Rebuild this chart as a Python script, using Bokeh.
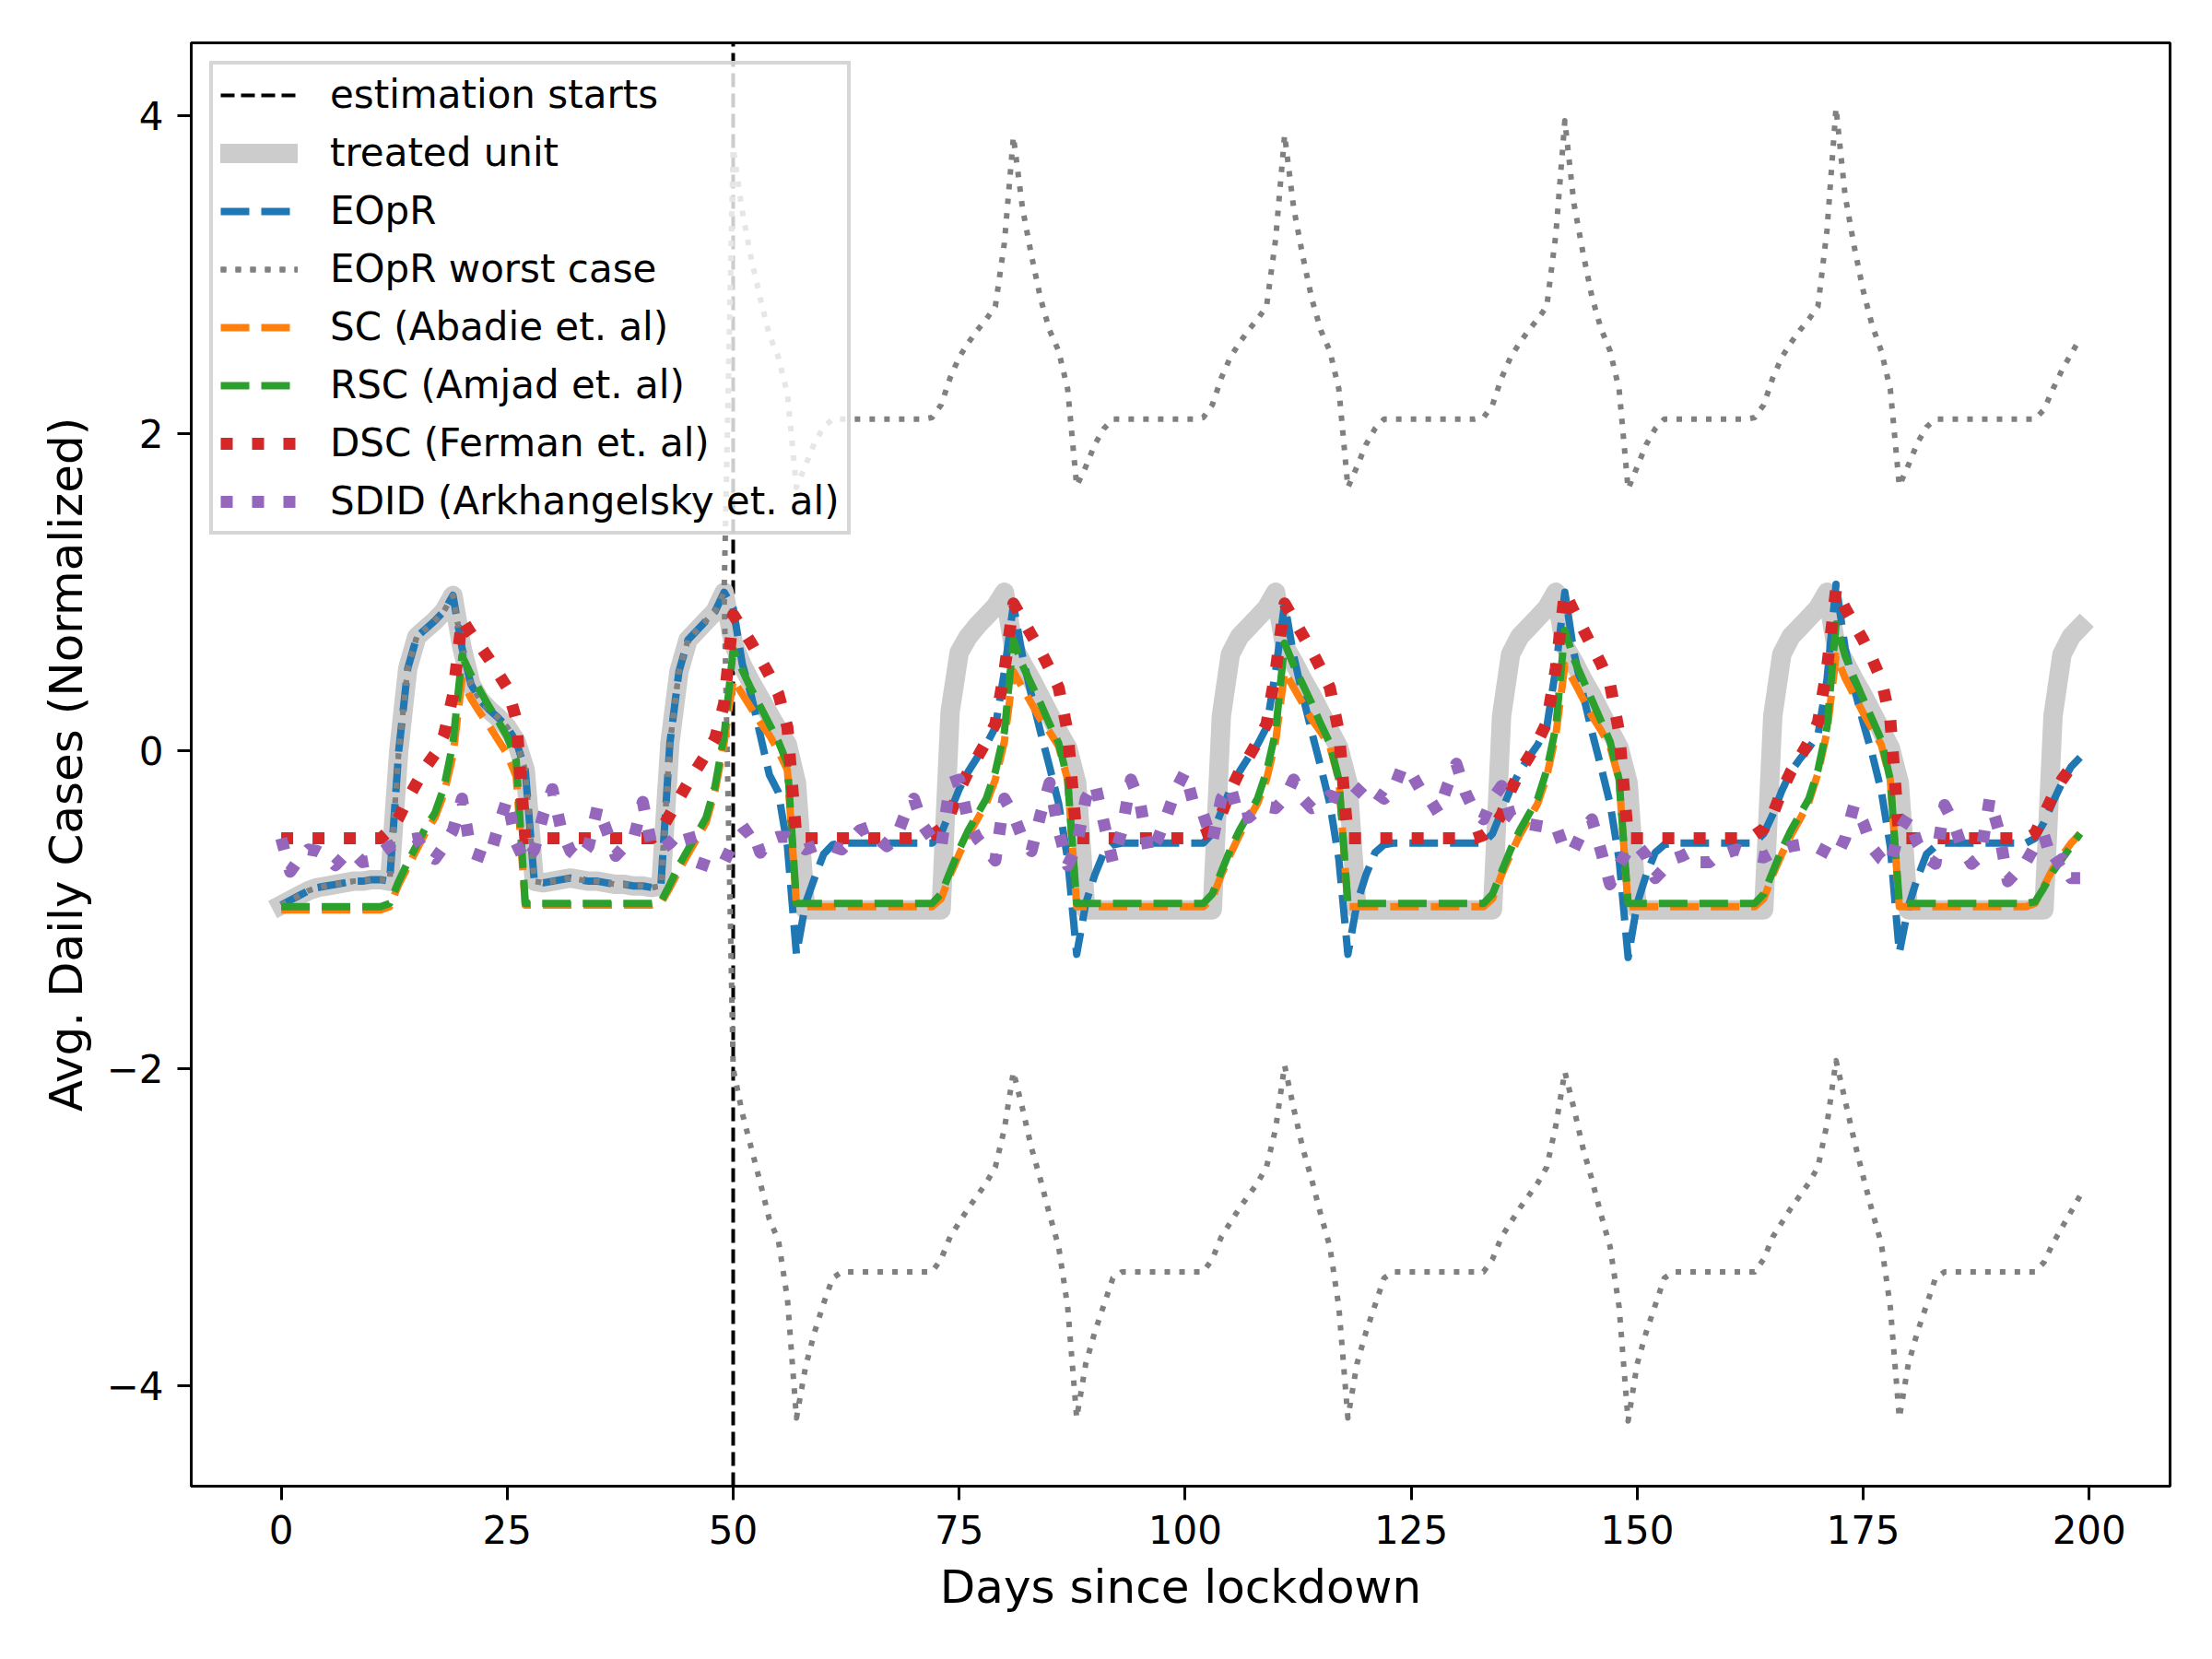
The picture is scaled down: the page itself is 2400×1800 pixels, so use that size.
from bokeh.plotting import figure
from bokeh.models import Range1d, FixedTicker, Legend, LegendItem
from bokeh.embed import file_html
from bokeh.resources import INLINE

# ---------------- data ----------------
days = list(range(200))
estimation_start = 50
x_ticks = [0, 25, 50, 75, 100, 125, 150, 175, 200]
y_ticks = [-4, -2, 0, 2, 4]
y_tick_labels = {-4: "\u22124", -2: "\u22122", 0: "0", 2: "2", 4: "4"}

treated = [
    -0.97, -0.94, -0.91, -0.88, -0.86, -0.85, -0.84, -0.83, -0.82, -0.82,
    -0.81, -0.81, -0.82, 0.00, 0.52, 0.72, 0.77, 0.82, 0.88, 0.98,
    0.65, 0.42, 0.32, 0.26, 0.21, 0.15, 0.06, -0.12, -0.82, -0.83,
    -0.82, -0.81, -0.80, -0.81, -0.82, -0.82, -0.83, -0.84, -0.84, -0.85,
    -0.85, -0.86, -0.85, 0.05, 0.50, 0.70, 0.76, 0.82, 0.88, 1.00,
    0.68, 0.54, 0.43, 0.33, 0.23, 0.13, 0.04, -0.20, -1.00, -1.00,
    -1.00, -1.00, -1.00, -1.00, -1.00, -1.00, -1.00, -1.00, -1.00, -1.00,
    -1.00, -1.00, -1.00, -1.00, 0.25, 0.62, 0.72, 0.79, 0.85, 0.91,
    1.00, 0.66, 0.55, 0.45, 0.34, 0.23, 0.12, 0.02, -0.20, -1.00,
    -1.00, -1.00, -1.00, -1.00, -1.00, -1.00, -1.00, -1.00, -1.00, -1.00,
    -1.00, -1.00, -1.00, -1.00, 0.22, 0.61, 0.72, 0.78, 0.84, 0.90,
    1.00, 0.66, 0.56, 0.45, 0.35, 0.24, 0.13, 0.02, -0.20, -1.00,
    -1.00, -1.00, -1.00, -1.00, -1.00, -1.00, -1.00, -1.00, -1.00, -1.00,
    -1.00, -1.00, -1.00, -1.00, -1.00, 0.22, 0.61, 0.72, 0.78, 0.84,
    0.90, 1.00, 0.66, 0.56, 0.45, 0.35, 0.24, 0.13, 0.02, -0.20,
    -1.00, -1.00, -1.00, -1.00, -1.00, -1.00, -1.00, -1.00, -1.00, -1.00,
    -1.00, -1.00, -1.00, -1.00, -1.00, 0.22, 0.61, 0.72, 0.78, 0.84,
    0.90, 1.00, 0.66, 0.56, 0.45, 0.35, 0.24, 0.13, 0.02, -0.20,
    -1.00, -1.00, -1.00, -1.00, -1.00, -1.00, -1.00, -1.00, -1.00, -1.00,
    -1.00, -1.00, -1.00, -1.00, -1.00, -1.00, 0.22, 0.61, 0.72, 0.78,
]

eopr_post = [
    0.90, 0.55, 0.35, 0.10, -0.15, -0.26, -0.60, -1.28, -0.96, -0.80,
    -0.65, -0.59, -0.58, -0.58, -0.58, -0.58, -0.58, -0.58, -0.58, -0.58,
    -0.58, -0.58, -0.58, -0.52, -0.38, -0.24, -0.13, -0.04, 0.04, 0.15,
    0.50, 0.92, 0.60, 0.35, 0.12, -0.10, -0.33, -0.68, -1.28, -0.96,
    -0.78, -0.64, -0.59, -0.58, -0.58, -0.58, -0.58, -0.58, -0.58, -0.58,
    -0.58, -0.58, -0.58, -0.52, -0.38, -0.24, -0.13, -0.04, 0.04, 0.15,
    0.50, 0.93, 0.60, 0.35, 0.12, -0.10, -0.33, -0.68, -1.28, -0.96,
    -0.78, -0.64, -0.59, -0.58, -0.58, -0.58, -0.58, -0.58, -0.58, -0.58,
    -0.58, -0.58, -0.58, -0.58, -0.52, -0.38, -0.24, -0.13, -0.04, 0.04,
    0.15, 0.52, 1.00, 0.62, 0.36, 0.12, -0.10, -0.33, -0.68, -1.30,
    -0.96, -0.78, -0.64, -0.59, -0.58, -0.58, -0.58, -0.58, -0.58, -0.58,
    -0.58, -0.58, -0.58, -0.58, -0.52, -0.40, -0.25, -0.13, -0.05, 0.02,
    0.10, 0.45, 1.05, 0.65, 0.40, 0.18, -0.02, -0.25, -0.60, -1.27,
    -0.98, -0.80, -0.65, -0.60, -0.58, -0.58, -0.58, -0.58, -0.58, -0.58,
    -0.58, -0.58, -0.58, -0.58, -0.55, -0.45, -0.32, -0.20, -0.10, -0.04,
]

worst_upper_post = [
    3.80, 3.40, 3.10, 2.85, 2.62, 2.48, 2.25, 1.66, 1.80, 1.94,
    2.04, 2.09, 2.09, 2.09, 2.09, 2.09, 2.09, 2.09, 2.09, 2.09,
    2.09, 2.09, 2.10, 2.18, 2.35, 2.48, 2.57, 2.65, 2.72, 2.80,
    3.20, 3.87, 3.42, 3.12, 2.85, 2.65, 2.52, 2.28, 1.67, 1.79,
    1.93, 2.03, 2.09, 2.09, 2.09, 2.09, 2.09, 2.09, 2.09, 2.09,
    2.09, 2.09, 2.10, 2.18, 2.35, 2.48, 2.57, 2.65, 2.72, 2.80,
    3.22, 3.88, 3.42, 3.12, 2.85, 2.65, 2.52, 2.28, 1.66, 1.79,
    1.93, 2.03, 2.09, 2.09, 2.09, 2.09, 2.09, 2.09, 2.09, 2.09,
    2.09, 2.09, 2.09, 2.10, 2.18, 2.35, 2.48, 2.57, 2.65, 2.72,
    2.80, 3.25, 3.97, 3.45, 3.14, 2.86, 2.66, 2.52, 2.28, 1.65,
    1.79, 1.93, 2.03, 2.09, 2.09, 2.09, 2.09, 2.09, 2.09, 2.09,
    2.09, 2.09, 2.09, 2.10, 2.18, 2.35, 2.48, 2.57, 2.65, 2.72,
    2.80, 3.28, 4.05, 3.50, 3.18, 2.90, 2.68, 2.52, 2.28, 1.67,
    1.80, 1.94, 2.04, 2.09, 2.09, 2.09, 2.09, 2.09, 2.09, 2.09,
    2.09, 2.09, 2.09, 2.09, 2.09, 2.15, 2.28, 2.40, 2.50, 2.60,
]

worst_lower_post = [
    -2.00, -2.28, -2.50, -2.72, -2.95, -3.08, -3.45, -4.20, -3.88, -3.66,
    -3.48, -3.32, -3.28, -3.28, -3.28, -3.28, -3.28, -3.28, -3.28, -3.28,
    -3.28, -3.28, -3.28, -3.20, -3.06, -2.97, -2.88, -2.80, -2.72, -2.62,
    -2.38, -2.02, -2.25, -2.50, -2.70, -2.92, -3.12, -3.50, -4.20, -3.86,
    -3.66, -3.49, -3.32, -3.28, -3.28, -3.28, -3.28, -3.28, -3.28, -3.28,
    -3.28, -3.28, -3.28, -3.20, -3.06, -2.97, -2.88, -2.80, -2.72, -2.62,
    -2.38, -1.98, -2.25, -2.50, -2.70, -2.92, -3.12, -3.50, -4.20, -3.86,
    -3.66, -3.49, -3.32, -3.28, -3.28, -3.28, -3.28, -3.28, -3.28, -3.28,
    -3.28, -3.28, -3.28, -3.28, -3.20, -3.06, -2.97, -2.88, -2.80, -2.72,
    -2.62, -2.36, -2.02, -2.25, -2.50, -2.70, -2.92, -3.12, -3.50, -4.22,
    -3.86, -3.66, -3.49, -3.32, -3.28, -3.28, -3.28, -3.28, -3.28, -3.28,
    -3.28, -3.28, -3.28, -3.28, -3.20, -3.06, -2.97, -2.88, -2.80, -2.72,
    -2.62, -2.35, -1.95, -2.20, -2.45, -2.68, -2.90, -3.10, -3.50, -4.20,
    -3.86, -3.66, -3.49, -3.32, -3.28, -3.28, -3.28, -3.28, -3.28, -3.28,
    -3.28, -3.28, -3.28, -3.28, -3.28, -3.22, -3.10, -3.00, -2.90, -2.80,
]

sc_abadie = [
    -1.00, -1.00, -1.00, -1.00, -1.00, -1.00, -1.00, -1.00, -1.00, -1.00,
    -1.00, -1.00, -0.98, -0.84, -0.73, -0.62, -0.51, -0.42, -0.27, -0.03,
    0.45, 0.33, 0.24, 0.16, 0.07, -0.02, -0.16, -0.97, -0.97, -0.97,
    -0.97, -0.97, -0.97, -0.97, -0.97, -0.97, -0.97, -0.97, -0.97, -0.97,
    -0.97, -0.97, -0.96, -0.86, -0.75, -0.65, -0.55, -0.45, -0.25, 0.05,
    0.45, 0.36, 0.27, 0.18, 0.10, 0.00, -0.12, -0.97, -0.98, -0.98,
    -0.98, -0.98, -0.98, -0.98, -0.98, -0.98, -0.98, -0.98, -0.98, -0.98,
    -0.98, -0.98, -0.98, -0.93, -0.78, -0.65, -0.53, -0.43, -0.33, -0.18,
    0.06, 0.50, 0.40, 0.30, 0.20, 0.12, 0.03, -0.18, -0.98, -0.98,
    -0.98, -0.98, -0.98, -0.98, -0.98, -0.98, -0.98, -0.98, -0.98, -0.98,
    -0.98, -0.98, -0.98, -0.93, -0.78, -0.65, -0.53, -0.43, -0.33, -0.18,
    0.06, 0.50, 0.40, 0.30, 0.20, 0.12, 0.03, -0.18, -0.98, -0.98,
    -0.98, -0.98, -0.98, -0.98, -0.98, -0.98, -0.98, -0.98, -0.98, -0.98,
    -0.98, -0.98, -0.98, -0.98, -0.93, -0.78, -0.65, -0.53, -0.43, -0.33,
    -0.16, 0.10, 0.54, 0.44, 0.33, 0.22, 0.13, 0.03, -0.18, -0.98,
    -0.98, -0.98, -0.98, -0.98, -0.98, -0.98, -0.98, -0.98, -0.98, -0.98,
    -0.98, -0.98, -0.98, -0.98, -0.93, -0.78, -0.65, -0.53, -0.43, -0.32,
    -0.14, 0.12, 0.60, 0.46, 0.35, 0.24, 0.14, 0.04, -0.18, -0.98,
    -0.98, -0.98, -0.98, -0.98, -0.98, -0.98, -0.98, -0.98, -0.98, -0.98,
    -0.98, -0.98, -0.98, -0.98, -0.96, -0.85, -0.74, -0.66, -0.58, -0.52,
]

rsc_amjad = [
    -0.98, -0.98, -0.98, -0.98, -0.98, -0.98, -0.98, -0.98, -0.98, -0.98,
    -0.98, -0.98, -0.96, -0.82, -0.70, -0.59, -0.48, -0.39, -0.23, 0.05,
    0.60, 0.48, 0.38, 0.28, 0.19, 0.09, -0.06, -0.96, -0.96, -0.96,
    -0.96, -0.96, -0.96, -0.96, -0.96, -0.96, -0.96, -0.96, -0.96, -0.96,
    -0.96, -0.96, -0.95, -0.84, -0.72, -0.62, -0.52, -0.42, -0.22, 0.10,
    0.64, 0.51, 0.39, 0.28, 0.17, 0.06, -0.08, -0.96, -0.96, -0.96,
    -0.96, -0.96, -0.96, -0.96, -0.96, -0.96, -0.96, -0.96, -0.96, -0.96,
    -0.96, -0.96, -0.96, -0.90, -0.76, -0.62, -0.50, -0.40, -0.30, -0.13,
    0.12, 0.70, 0.54, 0.42, 0.30, 0.17, 0.05, -0.18, -0.96, -0.96,
    -0.96, -0.96, -0.96, -0.96, -0.96, -0.96, -0.96, -0.96, -0.96, -0.96,
    -0.96, -0.96, -0.96, -0.90, -0.76, -0.62, -0.50, -0.40, -0.30, -0.13,
    0.12, 0.68, 0.54, 0.42, 0.30, 0.17, 0.05, -0.18, -0.96, -0.96,
    -0.96, -0.96, -0.96, -0.96, -0.96, -0.96, -0.96, -0.96, -0.96, -0.96,
    -0.96, -0.96, -0.96, -0.96, -0.90, -0.76, -0.62, -0.50, -0.40, -0.30,
    -0.12, 0.15, 0.76, 0.58, 0.45, 0.32, 0.19, 0.06, -0.18, -0.96,
    -0.96, -0.96, -0.96, -0.96, -0.96, -0.96, -0.96, -0.96, -0.96, -0.96,
    -0.96, -0.96, -0.96, -0.96, -0.90, -0.76, -0.62, -0.50, -0.40, -0.30,
    -0.12, 0.15, 0.80, 0.60, 0.46, 0.33, 0.20, 0.07, -0.18, -0.96,
    -0.96, -0.96, -0.96, -0.96, -0.96, -0.96, -0.96, -0.96, -0.96, -0.96,
    -0.96, -0.96, -0.96, -0.96, -0.95, -0.86, -0.76, -0.68, -0.60, -0.52,
]

dsc_ferman = [
    -0.55, -0.55, -0.55, -0.55, -0.55, -0.55, -0.55, -0.55, -0.55, -0.55,
    -0.55, -0.55, -0.50, -0.42, -0.30, -0.20, -0.10, -0.02, 0.10, 0.35,
    0.83, 0.74, 0.66, 0.58, 0.49, 0.40, 0.20, -0.55, -0.55, -0.55,
    -0.55, -0.55, -0.55, -0.55, -0.55, -0.55, -0.55, -0.55, -0.55, -0.55,
    -0.55, -0.55, -0.50, -0.40, -0.30, -0.20, -0.11, -0.02, 0.08, 0.30,
    0.86, 0.77, 0.68, 0.58, 0.48, 0.36, 0.15, -0.55, -0.55, -0.55,
    -0.55, -0.55, -0.55, -0.55, -0.55, -0.55, -0.55, -0.55, -0.55, -0.55,
    -0.55, -0.55, -0.53, -0.49, -0.40, -0.25, -0.13, -0.04, 0.06, 0.17,
    0.50, 0.93, 0.83, 0.73, 0.63, 0.52, 0.40, 0.12, -0.55, -0.55,
    -0.55, -0.55, -0.55, -0.55, -0.55, -0.55, -0.55, -0.55, -0.55, -0.55,
    -0.55, -0.55, -0.53, -0.49, -0.40, -0.25, -0.13, -0.04, 0.06, 0.17,
    0.50, 0.93, 0.83, 0.73, 0.63, 0.52, 0.40, 0.12, -0.55, -0.55,
    -0.55, -0.55, -0.55, -0.55, -0.55, -0.55, -0.55, -0.55, -0.55, -0.55,
    -0.55, -0.55, -0.55, -0.53, -0.49, -0.40, -0.25, -0.13, -0.04, 0.06,
    0.18, 0.52, 1.00, 0.88, 0.77, 0.66, 0.55, 0.42, 0.12, -0.55,
    -0.55, -0.55, -0.55, -0.55, -0.55, -0.55, -0.55, -0.55, -0.55, -0.55,
    -0.55, -0.55, -0.55, -0.53, -0.49, -0.40, -0.25, -0.13, -0.04, 0.06,
    0.18, 0.52, 1.02, 0.90, 0.80, 0.70, 0.58, 0.45, 0.20, -0.55,
    -0.55, -0.55, -0.55, -0.55, -0.55, -0.55, -0.55, -0.55, -0.55, -0.55,
    -0.55, -0.55, -0.55, -0.55, -0.52, -0.40, -0.28, -0.18, -0.10, -0.04,
]

sdid_arkhangelsky = [
    -0.55, -0.76, -0.68, -0.62, -0.63, -0.66, -0.72, -0.66, -0.64, -0.70,
    -0.69, -0.64, -0.60, -0.58, -0.56, -0.55, -0.65, -0.68, -0.60, -0.50,
    -0.30, -0.64, -0.66, -0.68, -0.48, -0.30, -0.58, -0.70, -0.62, -0.40,
    -0.24, -0.50, -0.63, -0.68, -0.60, -0.35, -0.50, -0.66, -0.60, -0.55,
    -0.32, -0.60, -0.62, -0.58, -0.52, -0.50, -0.70, -0.72, -0.74, -0.70,
    -0.58, -0.52, -0.48, -0.64, -0.56, -0.54, -0.54, -0.58, -0.62, -0.60,
    -0.58, -0.60, -0.62, -0.56, -0.50, -0.48, -0.55, -0.60, -0.55, -0.40,
    -0.30, -0.47, -0.55, -0.61, -0.20, -0.18, -0.44, -0.55, -0.62, -0.69,
    -0.30, -0.40, -0.55, -0.63, -0.40, -0.20, -0.50, -0.72, -0.60, -0.30,
    -0.20, -0.45, -0.70, -0.50, -0.18, -0.32, -0.65, -0.55, -0.40, -0.24,
    -0.13, -0.35, -0.40, -0.57, -0.30, -0.22, -0.43, -0.42, -0.37, -0.35,
    -0.36, -0.30, -0.18, -0.30, -0.36, -0.34, -0.28, -0.30, -0.32, -0.26,
    -0.20, -0.26, -0.30, -0.25, -0.10, -0.14, -0.24, -0.30, -0.39, -0.22,
    -0.08, -0.26, -0.38, -0.43, -0.30, -0.22, -0.41, -0.45, -0.46, -0.47,
    -0.48, -0.47, -0.63, -0.62, -0.50, -0.43, -0.63, -0.84, -0.72, -0.62,
    -0.59, -0.66, -0.80, -0.74, -0.68, -0.66, -0.63, -0.70, -0.70, -0.65,
    -0.64, -0.62, -0.64, -0.66, -0.67, -0.64, -0.62, -0.60, -0.59, -0.60,
    -0.61, -0.64, -0.67, -0.55, -0.34, -0.45, -0.61, -0.68, -0.72, -0.50,
    -0.41, -0.58, -0.67, -0.71, -0.34, -0.45, -0.62, -0.71, -0.66, -0.30,
    -0.50, -0.82, -0.76, -0.70, -0.60, -0.53, -0.72, -0.68, -0.80, -0.80,
]

# pre-period: EOpR and its worst-case envelope coincide with the treated unit
eopr = treated[:estimation_start] + eopr_post
worst_upper = treated[:estimation_start] + worst_upper_post
worst_lower = treated[:estimation_start] + worst_lower_post

FONT = "DejaVu Sans"

p = figure(
    width=2384, height=1784,
    x_range=Range1d(-9.95, 208.95), y_range=Range1d(-4.63, 4.46),
    output_backend="svg", toolbar_location=None,
    min_border_left=207, min_border_right=30,
    min_border_top=46, min_border_bottom=172,
    background_fill_color="white", border_fill_color="white",
)
p.xgrid.visible = False
p.ygrid.visible = False
p.outline_line_color = "black"
p.outline_line_width = 3

for ax in (p.xaxis, p.yaxis):
    ax.axis_line_width = 3
    ax.axis_line_color = "black"
    ax.major_tick_line_width = 3
    ax.major_tick_line_color = "black"
    ax.major_tick_out = 15
    ax.major_tick_in = 0
    ax.minor_tick_out = 0
    ax.minor_tick_in = 0
    ax.major_label_text_font = FONT
    ax.major_label_text_font_size = "42px"
    ax.major_label_text_color = "black"
    ax.axis_label_text_font = FONT
    ax.axis_label_text_font_size = "50px"
    ax.axis_label_text_font_style = "normal"
    ax.axis_label_text_color = "black"

p.xaxis.ticker = FixedTicker(ticks=x_ticks, minor_ticks=[])
p.yaxis.ticker = FixedTicker(ticks=y_ticks, minor_ticks=[])
p.yaxis.major_label_overrides = y_tick_labels
p.xaxis.major_label_standoff = 16
p.yaxis.major_label_standoff = 15
p.xaxis.axis_label = "Days since lockdown"
p.yaxis.axis_label = "Avg. Daily Cases (Normalized)"
p.xaxis.axis_label_standoff = 15
p.yaxis.axis_label_standoff = 12

r_vline = p.line([estimation_start, estimation_start],
                 [p.y_range.start, p.y_range.end],
                 line_color="black", line_width=4, line_dash="15 7")
r_treated = p.line(days, treated, line_color="#cccccc", line_width=21,
                   line_join="round", line_cap="square")
r_eopr = p.line(days, eopr, line_color="#1f77b4", line_width=8,
                line_dash="31 13", line_join="round")
r_wu = p.line(days, worst_upper, line_color="#808080", line_width=6,
              line_dash="6 10", line_join="round")
r_wl = p.line(days, worst_lower, line_color="#808080", line_width=6,
              line_dash="6 10", line_join="round")
r_sc = p.line(days, sc_abadie, line_color="#ff7f0e", line_width=8,
              line_dash="31 13", line_join="round")
r_rsc = p.line(days, rsc_amjad, line_color="#2ca02c", line_width=8,
               line_dash="31 13", line_join="round")
r_dsc = p.line(days, dsc_ferman, line_color="#d62728", line_width=13,
               line_dash="13 21", line_join="round")
r_sdid = p.line(days, sdid_arkhangelsky, line_color="#9467bd", line_width=13,
                line_dash="13 21", line_join="round")

legend = Legend(
    items=[
        LegendItem(label="estimation starts", renderers=[r_vline]),
        LegendItem(label="treated unit", renderers=[r_treated]),
        LegendItem(label="EOpR", renderers=[r_eopr]),
        LegendItem(label="EOpR worst case", renderers=[r_wu, r_wl]),
        LegendItem(label="SC (Abadie et. al)", renderers=[r_sc]),
        LegendItem(label="RSC (Amjad et. al)", renderers=[r_rsc]),
        LegendItem(label="DSC (Ferman et. al)", renderers=[r_dsc]),
        LegendItem(label="SDID (Arkhangelsky et. al)", renderers=[r_sdid]),
    ],
    location="top_left",
    label_text_font=FONT,
    label_text_font_size="42px",
    label_text_color="black",
    glyph_width=84,
    glyph_height=42,
    label_height=42,
    spacing=14,
    padding=8,
    margin=20,
    label_standoff=35,
    border_line_color="#cccccc",
    border_line_width=4,
    border_line_alpha=0.8,
    background_fill_color="white",
    background_fill_alpha=0.8,
)
p.add_layout(legend)

open("out.html", "w").write(file_html(p, INLINE))
